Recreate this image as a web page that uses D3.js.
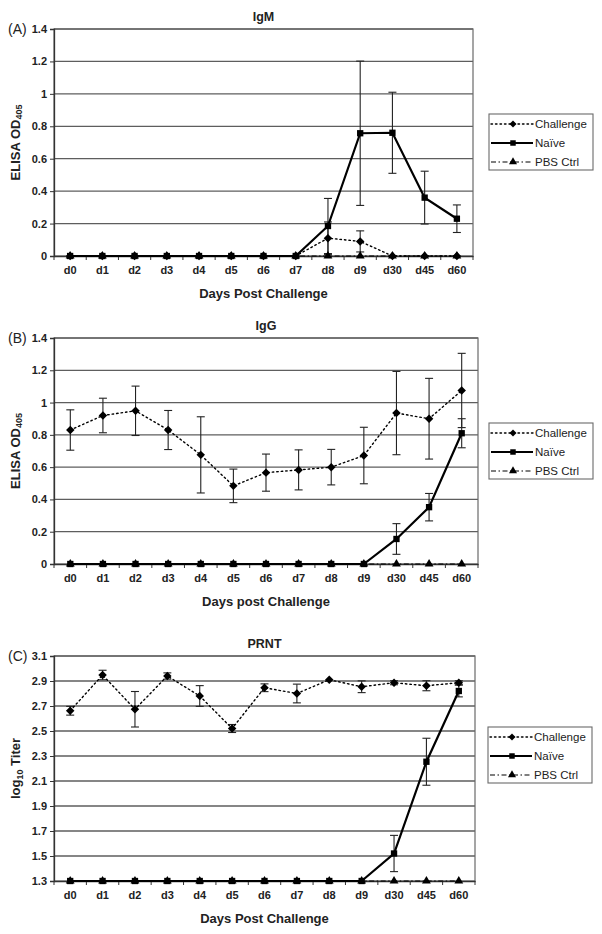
<!DOCTYPE html>
<html><head><meta charset="utf-8">
<script src="https://cdn.jsdelivr.net/npm/d3@7"></script>
<style>body{margin:0;background:#fff}svg{display:block}text{font-family:"Liberation Sans",Arial,sans-serif}</style>
</head><body>
<script>
const days = ["d0","d1","d2","d3","d4","d5","d6","d7","d8","d9","d30","d45","d60"];
const seriesNames = ["Challenge","Naïve","PBS Ctrl"];

// Panel A: IgM
const igmChallenge = [0,0,0,0,0,0,0,0,0.11,0.09,0,0,0];
const igmChallengeErr = [0,0,0,0,0,0,0,0,0.1,0.065,0,0,0];
const igmNaive = [0,0,0,0,0,0,0,0,0.185,0.757,0.76,0.36,0.23];
const igmNaiveErr = [0,0,0,0,0,0,0,0,0.17,0.445,0.25,0.163,0.085];
const igmPBS = [0,0,0,0,0,0,0,0,0,0,0,0,0];
const igmTicks = [0,0.2,0.4,0.6,0.8,1,1.2,1.4];

// Panel B: IgG
const iggChallenge = [0.83,0.92,0.949,0.83,0.676,0.484,0.566,0.583,0.6,0.672,0.935,0.9,1.075];
const iggChallengeErr = [0.125,0.107,0.153,0.121,0.236,0.104,0.115,0.124,0.11,0.175,0.258,0.25,0.23];
const iggNaive = [0,0,0,0,0,0,0,0,0,0,0.155,0.352,0.81];
const iggNaiveErr = [0,0,0,0,0,0,0,0,0,0,0.095,0.085,0.09];
const iggPBS = [0,0,0,0,0,0,0,0,0,0,0,0,0];
const iggTicks = [0,0.2,0.4,0.6,0.8,1,1.2,1.4];

// Panel C: PRNT
const prntChallenge = [2.662,2.948,2.674,2.94,2.78,2.52,2.846,2.80,2.91,2.854,2.886,2.862,2.886];
const prntChallengeErr = [0.035,0.038,0.142,0.025,0.083,0.032,0.031,0.075,0,0.047,0.016,0.04,0.016];
const prntNaive = [1.3,1.3,1.3,1.3,1.3,1.3,1.3,1.3,1.3,1.3,1.52,2.254,2.82];
const prntNaiveErr = [0,0,0,0,0,0,0,0,0,0,0.145,0.188,0.047];
const prntPBS = [1.3,1.3,1.3,1.3,1.3,1.3,1.3,1.3,1.3,1.3,1.3,1.3,1.3];
const prntTicks = [1.3,1.5,1.7,1.9,2.1,2.3,2.5,2.7,2.9,3.1];

const svg = d3.select("body").append("svg").attr("width",602).attr("height",934);

const panels = [
  {tag:"(A)", title:"IgM", xTitle:"Days Post Challenge", yLab:["ELISA OD","405"], dom:[0,1.4], ticks:igmTicks, fmt:d=>String(d),
   box:{l:54,t:29,r:473,b:256}, leg:{x:489,y:114,w:104,h:56},
   ch:igmChallenge, chE:igmChallengeErr, nv:igmNaive, nvE:igmNaiveErr, pbs:igmPBS},
  {tag:"(B)", title:"IgG", xTitle:"Days post Challenge", yLab:["ELISA OD","405"], dom:[0,1.4], ticks:iggTicks, fmt:d=>String(d),
   box:{l:54,t:338,r:478,b:564}, leg:{x:489,y:423,w:104,h:56},
   ch:iggChallenge, chE:iggChallengeErr, nv:iggNaive, nvE:iggNaiveErr, pbs:iggPBS},
  {tag:"(C)", title:"PRNT", xTitle:"Days Post Challenge", yLab:["log","10"," Titer"], dom:[1.3,3.1], ticks:prntTicks, fmt:d=>d.toFixed(1),
   box:{l:54,t:656,r:475,b:881}, leg:{x:488,y:727,w:104,h:56},
   ch:prntChallenge, chE:prntChallengeErr, nv:prntNaive, nvE:prntNaiveErr, pbs:prntPBS}
];

const styles = {
  "Challenge": {dash:"1.5,3", width:1.4, marker:"diamond", cap:"round"},
  "Naïve": {dash:null, width:2.2, marker:"square", cap:"butt"},
  "PBS Ctrl": {dash:"5,2.5,1.5,2.5", width:1.2, marker:"triangle", cap:"butt"}
};
const diamondSym = { draw(ctx, size){ const r = Math.sqrt(size)/2; ctx.moveTo(0,-r); ctx.lineTo(r,0); ctx.lineTo(0,r); ctx.lineTo(-r,0); ctx.closePath(); } };
const symType = {diamond:diamondSym, square:d3.symbolSquare, triangle:d3.symbolTriangle};
const symSize = {diamond:72, square:40, triangle:34};
const legSize = {diamond:50, square:30, triangle:28};

function drawPanel(p){
  const g = svg.append("g");
  const {l,t,r,b} = p.box;
  const x = d3.scaleBand().domain(days).range([l,r]);
  const y = d3.scaleLinear().domain(p.dom).range([b,t]);
  const cx = d => x(d)+x.bandwidth()/2;

  g.append("g").selectAll("line").data(p.ticks.slice(1)).join("line")
    .attr("x1",l).attr("x2",r).attr("y1",d=>y(d)).attr("y2",d=>y(d))
    .attr("stroke","#5e5e5e").attr("stroke-width",1.3);
  g.append("rect").attr("x",l).attr("y",t).attr("width",r-l).attr("height",b-t)
    .attr("fill","none").attr("stroke","#6a6a6a").attr("stroke-width",1.2);

  const ya = g.append("g").attr("transform",`translate(${l},0)`)
    .call(d3.axisLeft(y).tickValues(p.ticks).tickFormat(p.fmt).tickSize(4).tickPadding(3));
  ya.select(".domain").attr("stroke","#333").attr("stroke-width",1.3);
  ya.selectAll(".tick line").attr("stroke","#333");
  ya.selectAll("text").attr("font-size",11).attr("font-weight","bold").attr("fill","#222")
    .attr("font-family","Liberation Sans, Arial, sans-serif");

  const xa = g.append("g").attr("transform",`translate(0,${b})`)
    .call(d3.axisBottom(x).tickSize(0).tickPadding(10));
  xa.select(".domain").attr("stroke","#333").attr("stroke-width",1.5);
  xa.selectAll("text").attr("font-size",11).attr("font-weight","bold").attr("fill","#222")
    .attr("font-family","Liberation Sans, Arial, sans-serif");
  g.append("g").selectAll("line").data(days).join("line")
    .attr("x1",d=>x(d)).attr("x2",d=>x(d)).attr("y1",b).attr("y2",b+4)
    .attr("stroke","#333");
  g.append("line").attr("x1",r).attr("x2",r).attr("y1",b).attr("y2",b+4).attr("stroke","#333");

  g.append("text").attr("x",(l+r)/2).attr("y",t-8).attr("text-anchor","middle")
    .attr("font-size",12.5).attr("font-weight","bold").attr("fill","#222").text(p.title);
  g.append("text").attr("x",8).attr("y",t+5).attr("font-size",14).attr("fill","#222").text(p.tag);
  g.append("text").attr("x",(l+r)/2).attr("y",b+42).attr("text-anchor","middle")
    .attr("font-size",13).attr("font-weight","bold").attr("fill","#222").text(p.xTitle);
  const yl = g.append("text").attr("transform",`translate(20,${(t+b)/2}) rotate(-90)`)
    .attr("text-anchor","middle").attr("font-size",13).attr("font-weight","bold").attr("fill","#222");
  if(p.yLab.length===2){
    yl.append("tspan").text(p.yLab[0]);
    yl.append("tspan").attr("font-size",9).attr("dy",2).text(p.yLab[1]);
  } else {
    yl.append("tspan").text(p.yLab[0]);
    yl.append("tspan").attr("font-size",9).attr("dy",3).text(p.yLab[1]);
    yl.append("tspan").attr("dy",-3).text(p.yLab[2]);
  }

  const series = [
    {name:"PBS Ctrl", v:p.pbs, e:null},
    {name:"Challenge", v:p.ch, e:p.chE},
    {name:"Naïve", v:p.nv, e:p.nvE}
  ];
  series.forEach(s=>{
    if(!s.e) return;
    const idx = days.map((d,i)=>i).filter(i=>s.e[i]>0);
    const eg = g.append("g").attr("stroke","#222").attr("stroke-width",1.1);
    idx.forEach(i=>{
      const xx = cx(days[i]);
      const y1 = y(s.v[i]+s.e[i]), y0 = y(Math.max(p.dom[0],s.v[i]-s.e[i]));
      eg.append("line").attr("x1",xx).attr("x2",xx).attr("y1",y1).attr("y2",y0);
      eg.append("line").attr("x1",xx-4).attr("x2",xx+4).attr("y1",y1).attr("y2",y1);
      eg.append("line").attr("x1",xx-4).attr("x2",xx+4).attr("y1",y0).attr("y2",y0);
    });
  });
  series.forEach(s=>{
    const st = styles[s.name];
    const line = d3.line().x((d,i)=>cx(days[i])).y(d=>y(d));
    g.append("path").datum(s.v).attr("d",line).attr("fill","none").attr("stroke","#000")
      .attr("stroke-width",st.width).attr("stroke-dasharray",st.dash).attr("stroke-linecap",st.cap);
    g.append("g").selectAll("path").data(s.v).join("path")
      .attr("transform",(d,i)=>`translate(${cx(days[i])},${y(d)})`)
      .attr("d",d3.symbol().type(symType[st.marker]).size(symSize[st.marker])).attr("fill","#000");
  });

  const L = p.leg;
  const lg = g.append("g");
  lg.append("rect").attr("x",L.x).attr("y",L.y).attr("width",L.w).attr("height",L.h)
    .attr("fill","#fff").attr("stroke","#6a6a6a").attr("stroke-width",1.1);
  seriesNames.forEach((n,i)=>{
    const st = styles[n];
    const yy = L.y+10+i*19;
    lg.append("line").attr("x1",L.x+2).attr("x2",L.x+44).attr("y1",yy).attr("y2",yy)
      .attr("stroke","#000").attr("stroke-width",st.width).attr("stroke-dasharray",st.dash).attr("stroke-linecap",st.cap);
    lg.append("path").attr("transform",`translate(${L.x+24},${yy})`)
      .attr("d",d3.symbol().type(symType[st.marker]).size(legSize[st.marker])).attr("fill","#000");
    lg.append("text").attr("x",L.x+46).attr("y",yy+4).attr("font-size",11.5).attr("fill","#222").text(n);
  });
}
panels.forEach(drawPanel);
</script>
</body></html>
